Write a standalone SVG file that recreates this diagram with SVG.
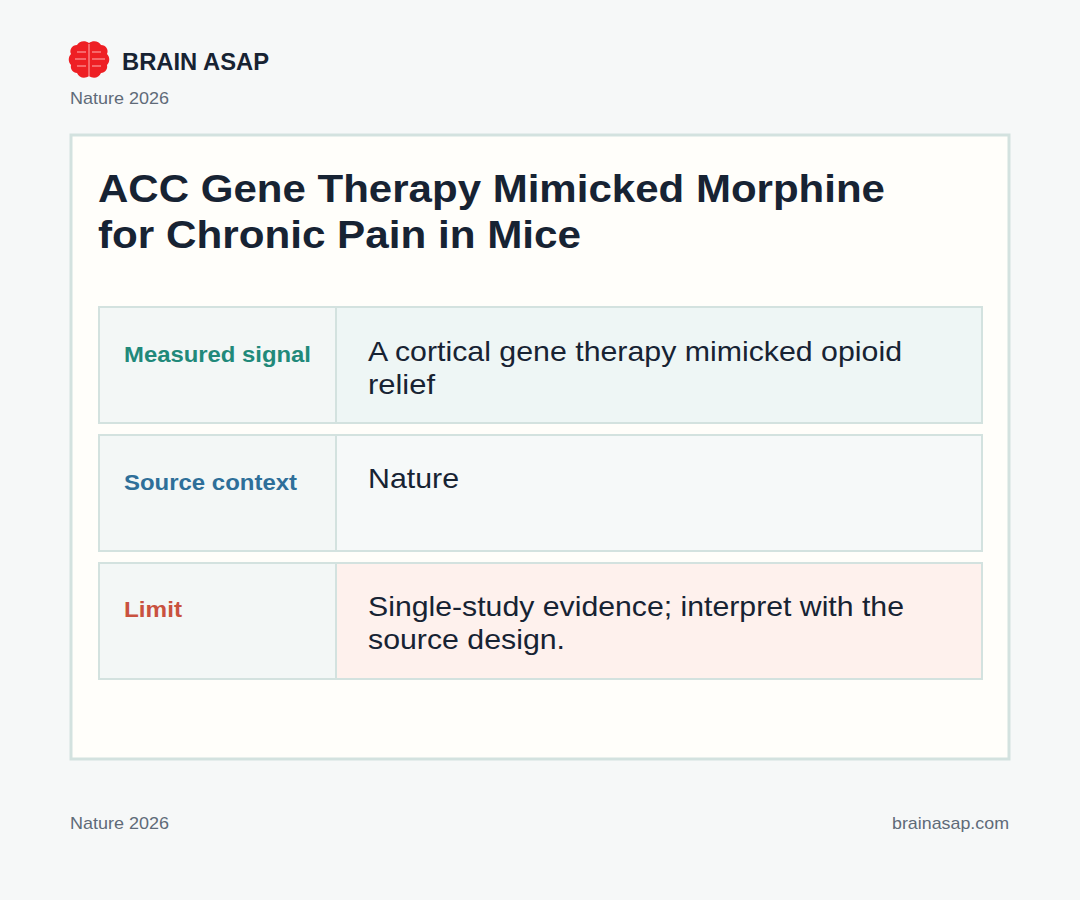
<svg xmlns="http://www.w3.org/2000/svg" width="1080" height="900" viewBox="0 0 1080 900">
<style>
text{font-family:"Liberation Sans",Arial,sans-serif}
.lab{font-size:22px;font-weight:bold}
.val{font-size:28px;fill:#172333}
.cell{stroke:#d3e2df;stroke-width:2}
.meta{font-size:17px;fill:#5f6b78}
</style>
<rect width="1080" height="900" fill="#f6f8f8"/>
<g id="logo">
<path d="M89 43c-4-3-10-2-12 2-5 0-8 5-6 9-3 3-3 8 0 11-1 4 2 8 6 8 2 5 8 6 12 3z" fill="#ee1f24"/>
<path d="M89 43c4-3 10-2 12 2 5 0 8 5 6 9 3 3 3 8 0 11 1 4-2 8-6 8-2 5-8 6-12 3z" fill="#ee1f24"/>
<g stroke="#ffb0b0" stroke-width="1" fill="none"><path d="M89 44v32M77 52h9M92 52h9M75 59h11M92 59h13M77 66h9M92 66h9"/></g>
<text x="122" y="70" font-size="23" font-weight="bold" fill="#172333" textLength="147" lengthAdjust="spacingAndGlyphs">BRAIN ASAP</text>
<text x="70" y="104" class="meta" textLength="99" lengthAdjust="spacingAndGlyphs">Nature 2026</text>
</g>
<g id="card">
<rect x="71" y="135" width="938" height="624" fill="#fffefa" stroke="#d3e2df" stroke-width="3"/>
<text x="98" y="202" font-size="39" font-weight="bold" fill="#172333" textLength="787" lengthAdjust="spacingAndGlyphs">ACC Gene Therapy Mimicked Morphine</text>
<text x="98" y="248" font-size="39" font-weight="bold" fill="#172333" textLength="483" lengthAdjust="spacingAndGlyphs">for Chronic Pain in Mice</text>
</g>
<g id="row1">
<rect x="99" y="307" width="237" height="116" fill="#f3f7f6" class="cell"/>
<rect x="336" y="307" width="646" height="116" fill="#eef6f5" class="cell"/>
<text x="124" y="362" class="lab" fill="#21897a" textLength="187" lengthAdjust="spacingAndGlyphs">Measured signal</text>
<text x="368" y="361" class="val" textLength="534" lengthAdjust="spacingAndGlyphs">A cortical gene therapy mimicked opioid</text>
<text x="368" y="394" class="val" textLength="67" lengthAdjust="spacingAndGlyphs">relief</text>
</g>
<g id="row2">
<rect x="99" y="435" width="237" height="116" fill="#f3f7f6" class="cell"/>
<rect x="336" y="435" width="646" height="116" fill="#f6f9f9" class="cell"/>
<text x="124" y="490" class="lab" fill="#2e6f99" textLength="173" lengthAdjust="spacingAndGlyphs">Source context</text>
<text x="368" y="488" class="val" textLength="91" lengthAdjust="spacingAndGlyphs">Nature</text>
</g>
<g id="row3">
<rect x="99" y="563" width="237" height="116" fill="#f3f7f6" class="cell"/>
<rect x="336" y="563" width="646" height="116" fill="#fef1ed" class="cell"/>
<text x="124" y="617" class="lab" fill="#c9523f" textLength="58" lengthAdjust="spacingAndGlyphs">Limit</text>
<text x="368" y="616" class="val" textLength="536" lengthAdjust="spacingAndGlyphs">Single-study evidence; interpret with the</text>
<text x="368" y="649" class="val" textLength="197" lengthAdjust="spacingAndGlyphs">source design.</text>
</g>
<g id="footer">
<text x="70" y="829" class="meta" textLength="99" lengthAdjust="spacingAndGlyphs">Nature 2026</text>
<text x="1009" y="829" class="meta" text-anchor="end" textLength="117" lengthAdjust="spacingAndGlyphs">brainasap.com</text>
</g>
<g id="connectors"/>
</svg>
